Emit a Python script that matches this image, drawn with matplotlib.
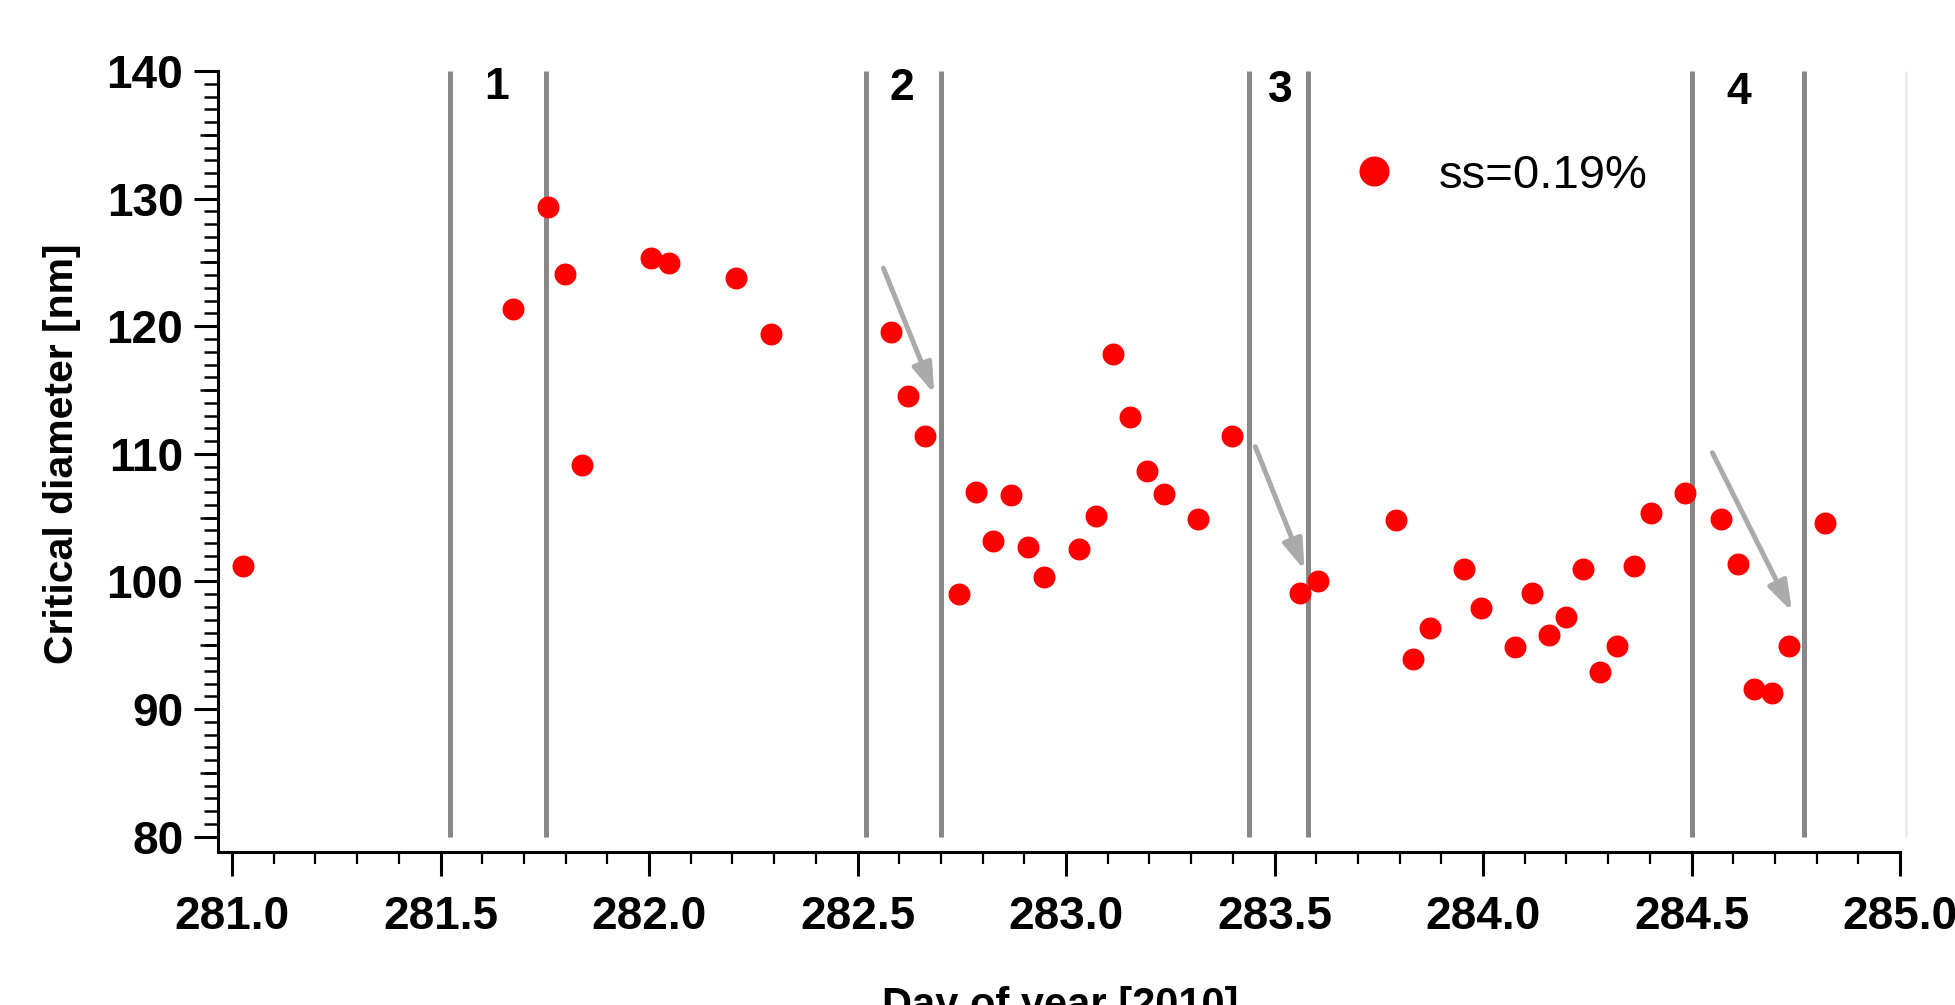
import numpy as np
import matplotlib
matplotlib.use("Agg")
import matplotlib.pyplot as plt
from matplotlib.ticker import FixedLocator, FormatStrFormatter

# ---------------- data ----------------
day = [281.026, 281.675, 281.757, 281.799, 281.840, 282.005, 282.047, 282.209,
       282.293, 282.580, 282.621, 282.662, 282.744, 282.785, 282.826, 282.868,
       282.909, 282.948, 283.031, 283.072, 283.112, 283.154, 283.195, 283.235,
       283.317, 283.399, 283.562, 283.604, 283.791, 283.832, 283.874, 283.955,
       283.996, 284.077, 284.118, 284.159, 284.199, 284.241, 284.281, 284.322,
       284.363, 284.404, 284.485, 284.570, 284.612, 284.651, 284.693, 284.735,
       284.819]
dcrit = [101.21, 121.37, 129.37, 124.11, 109.15, 125.32, 124.93, 123.76,
         119.36, 119.52, 114.53, 111.37, 99.04, 106.98, 103.17, 106.80,
         102.72, 100.32, 102.56, 105.13, 117.82, 112.91, 108.65, 106.83,
         104.87, 111.39, 99.11, 100.05, 104.81, 93.89, 96.33, 100.97,
         97.94, 94.88, 99.11, 95.82, 97.21, 100.97, 92.90, 94.94,
         101.21, 105.34, 106.95, 104.91, 101.34, 91.54, 91.25, 94.94,
         104.60]
series_label = "ss=0.19%"

event_bounds = [281.523, 281.752, 282.521, 282.700, 283.440, 283.581, 284.500, 284.769]
event_names = ["1", "2", "3", "4"]
event_name_x = [281.635, 282.606, 283.515, 284.614]
event_name_y = [138.7, 138.6, 138.45, 138.3]

arrow_start_x = [282.562, 283.454, 284.550]
arrow_start_y = [124.55, 110.56, 110.09]
arrow_end_x = [282.684, 283.572, 284.741]
arrow_end_y = [114.69, 100.89, 97.63]

x_major = [281.0, 281.5, 282.0, 282.5, 283.0, 283.5, 284.0, 284.5, 285.0]
y_major = [80, 90, 100, 110, 120, 130, 140]

# ---------------- style ----------------
plt.rcParams['font.family'] = ['Liberation Sans', 'DejaVu Sans']

W, H = 1956, 1005
fig = plt.figure(figsize=(W / 100, H / 100), dpi=100)
ax_l, ax_r, ax_t, ax_b = 218, 1900, 71, 852
ax = fig.add_axes([ax_l / W, 1 - ax_b / H, (ax_r - ax_l) / W, (ax_b - ax_t) / H])

ax.set_xlim(280.9664, 285.0)
ax.set_ylim(78.8, 140.0)

for s in ['top', 'right']:
    ax.spines[s].set_visible(False)
for s in ['left', 'bottom']:
    ax.spines[s].set_linewidth(2.2)

# event boundaries
ax.vlines(event_bounds, 80, 140, colors='#888888', linewidth=3.6, zorder=1)
# faint right frame line
ax.vlines([285.014], 80, 140, colors='#eeeeee', linewidth=2, zorder=0, clip_on=False)

for name, xx, yy in zip(event_names, event_name_x, event_name_y):
    ax.text(xx, yy, name, ha='center', va='center', fontsize=32, fontweight='bold')

for sx, sy, ex, ey in zip(arrow_start_x, arrow_start_y, arrow_end_x, arrow_end_y):
    ax.annotate('', xy=(ex, ey), xytext=(sx, sy),
                arrowprops=dict(arrowstyle='-|>,head_length=0.9,head_width=0.3',
                                color='#aaaaaa', lw=3.6, mutation_scale=20,
                                shrinkA=0, shrinkB=0), zorder=2)

ax.plot(day, dcrit, 'o', ls='none', color='#ff0000', mec='none', ms=15.8,
        label=series_label, zorder=3)

# ticks
ax.xaxis.set_major_locator(FixedLocator(x_major))
ax.xaxis.set_minor_locator(FixedLocator(np.round(np.arange(281.0, 285.001, 0.1), 2)))
ax.xaxis.set_major_formatter(FormatStrFormatter('%.1f'))
ax.yaxis.set_major_locator(FixedLocator(y_major))
ax.yaxis.set_minor_locator(FixedLocator(np.arange(80, 141, 1)))

ax.tick_params(axis='both', which='major', direction='out', length=17, width=2.2,
               labelsize=33)
ax.tick_params(axis='x', which='major', pad=14)
ax.tick_params(axis='y', which='major', pad=8)
ax.tick_params(axis='x', which='minor', direction='out', length=8.6, width=1.6)
ax.tick_params(axis='y', which='minor', direction='out', length=10, width=1.8)
for lab in ax.get_xticklabels() + ax.get_yticklabels():
    lab.set_fontweight('bold')

sec = ax.secondary_yaxis('left')
sec.set_yticks([85, 95, 105, 115, 125, 135])
sec.tick_params(direction='out', length=13, width=1.8, labelleft=False)
sec.spines['left'].set_visible(False)

ax.set_xlabel('Day of year [2010]', fontsize=30, fontweight='bold', va='top')
ax.xaxis.set_label_coords(0.5006, (ax_b - 986) / (ax_b - ax_t))
ax.set_ylabel('Critical diameter [nm]', fontsize=29.5, fontweight='bold', va='center')
ax.yaxis.set_label_coords((62.5 - ax_l) / (ax_r - ax_l), (ax_b - 454) / (ax_b - ax_t))

ax.legend(loc='center left', bbox_to_anchor=(1350 / W, 1 - 176 / H),
          bbox_transform=fig.transFigure, frameon=False, fontsize=34,
          markerscale=1.37, borderpad=0, borderaxespad=0, handlelength=1.0,
          handletextpad=0.87)

fig.savefig('out.png', dpi=100)
